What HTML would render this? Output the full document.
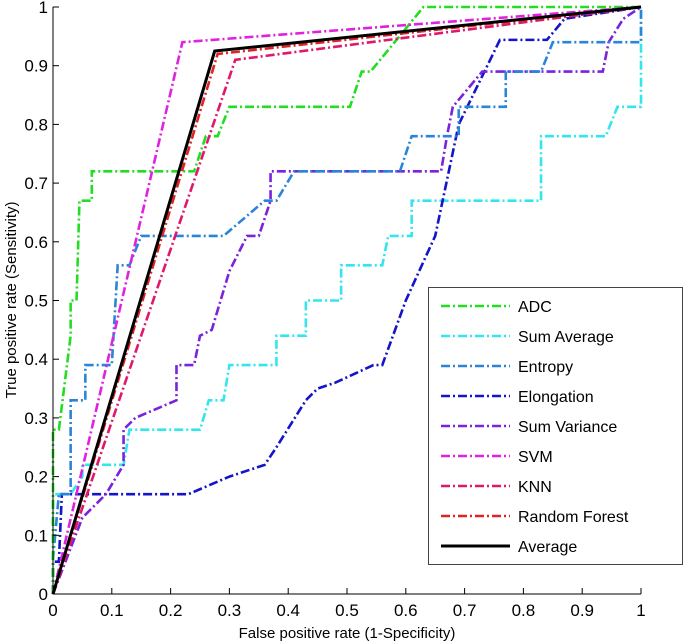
<!DOCTYPE html>
<html><head><meta charset="utf-8"><style>
body{margin:0;background:#fff;}
svg{display:block;font-family:"Liberation Sans",sans-serif;}
</style></head><body>
<svg id="chart" width="685" height="643" viewBox="0 0 685 643" xmlns="http://www.w3.org/2000/svg">
<g id="marks"></g>
<g id="axes"></g>
<g id="legend"></g>
<text x="347" y="638" font-size="15" text-anchor="middle">False positive rate (1-Specificity)</text>
<text transform="translate(16,300) rotate(-90)" font-size="15" text-anchor="middle">True positive rate (Sensitivity)</text>
</svg>
<script>
const seriesNames=["ADC","Sum Average","Entropy","Elongation","Sum Variance","SVM","KNN","Random Forest","Average"];
const adcX=[0,0,0.01,0.03,0.03,0.04,0.045,0.066,0.066,0.11,0.24,0.26,0.28,0.30,0.505,0.525,0.54,0.63,1];
const adcY=[0,0.28,0.28,0.44,0.5,0.5,0.67,0.67,0.72,0.72,0.72,0.78,0.78,0.83,0.83,0.89,0.89,1,1];
const sumAvgX=[0,0,0.03,0.05,0.05,0.12,0.13,0.25,0.265,0.29,0.30,0.38,0.38,0.43,0.43,0.49,0.49,0.56,0.57,0.61,0.61,0.83,0.83,0.94,0.96,1,1];
const sumAvgY=[0,0.17,0.17,0.2,0.22,0.22,0.28,0.28,0.33,0.33,0.39,0.39,0.44,0.44,0.5,0.5,0.56,0.56,0.61,0.61,0.67,0.67,0.78,0.78,0.83,0.83,1];
const entropyX=[0,0,0.01,0.03,0.03,0.055,0.055,0.1,0.11,0.13,0.15,0.29,0.36,0.38,0.41,0.59,0.61,0.69,0.69,0.77,0.77,0.83,0.85,1,1];
const entropyY=[0,0.06,0.17,0.17,0.33,0.33,0.39,0.39,0.56,0.56,0.61,0.61,0.67,0.67,0.72,0.72,0.78,0.78,0.83,0.83,0.89,0.89,0.94,0.94,1];
const elongX=[0,0,0.01,0.015,0.23,0.30,0.36,0.38,0.43,0.45,0.48,0.545,0.56,0.60,0.65,0.69,0.76,0.84,0.87,1];
const elongY=[0,0.055,0.055,0.17,0.17,0.2,0.22,0.25,0.33,0.35,0.36,0.39,0.39,0.5,0.61,0.8,0.944,0.944,0.98,1];
const sumVarX=[0,0.05,0.07,0.09,0.12,0.12,0.14,0.21,0.21,0.24,0.25,0.27,0.30,0.33,0.35,0.37,0.37,0.66,0.67,0.67,0.68,0.73,0.935,0.945,0.97,1];
const sumVarY=[0,0.13,0.15,0.17,0.22,0.28,0.3,0.33,0.39,0.39,0.44,0.45,0.55,0.61,0.61,0.67,0.72,0.72,0.78,0.78,0.83,0.89,0.89,0.94,0.98,1];
const svmX=[0,0.22,1], svmY=[0,0.94,1];
const knnX=[0,0.31,1], knnY=[0,0.91,1];
const rfX=[0,0.28,1], rfY=[0,0.92,1];
const avgX=[0,0.275,1], avgY=[0,0.925,1];
const xTicks=[0,0.1,0.2,0.3,0.4,0.5,0.6,0.7,0.8,0.9,1];
const yTicks=[0,0.1,0.2,0.3,0.4,0.5,0.6,0.7,0.8,0.9,1];

const X0=53,X1=641,Y0=594,Y1=7;
const sx=v=>X0+v*(X1-X0);
const sy=v=>Y0-v*(Y0-Y1);
const NS="http://www.w3.org/2000/svg";
const colors=["#22dd22","#33e6ee","#2a85d8","#1414c8","#7a22dd","#e022e0","#e0186a","#e02222","#000000"];
const allX=[adcX,sumAvgX,entropyX,elongX,sumVarX,svmX,knnX,rfX,avgX];
const allY=[adcY,sumAvgY,entropyY,elongY,sumVarY,svmY,knnY,rfY,avgY];
const order=[1,3,4,2,0,5,6,7,8];
const marks=document.getElementById('marks');
order.forEach(i=>{
  const p=document.createElementNS(NS,'polyline');
  
  
  p.setAttribute('points',allX[i].map((x,k)=>sx(x)+','+sy(allY[i][k])).join(' '));
  p.setAttribute('fill','none');
  p.setAttribute('stroke',colors[i]);
  p.setAttribute('stroke-width',i===8?3:2.6);
  if(i!==8)p.setAttribute('stroke-dasharray','9,3,2,3');
  marks.appendChild(p);
});
const axes=document.getElementById('axes');
function mk(tag,attrs,parent){const e=document.createElementNS(NS,tag);for(const k in attrs)e.setAttribute(k,attrs[k]);parent.appendChild(e);return e;}
const ax=mk('path',{d:`M${X0},${Y1} V${Y0} H${X1}`,fill:'none',stroke:'#000','stroke-width':1},axes);


xTicks.forEach(t=>{
  const l=mk('line',{x1:sx(t),x2:sx(t),y1:Y0,y2:Y0-6,stroke:'#000'},axes);
  
  
  const tx=mk('text',{x:sx(t),y:Y0+22,'font-size':17,'text-anchor':'middle'},axes);
  
  
  tx.textContent=String(t);
});
yTicks.forEach(t=>{
  const l=mk('line',{x1:X0,x2:X0+6,y1:sy(t),y2:sy(t),stroke:'#000'},axes);
  
  
  const tx=mk('text',{x:X0-5,y:sy(t)+6,'font-size':17,'text-anchor':'end'},axes);
  
  
  tx.textContent=String(t);
});
const lg=document.getElementById('legend');
const box=mk('rect',{x:428.5,y:287.5,width:254,height:277,fill:'#fff',stroke:'#444'},lg);


seriesNames.forEach((n,i)=>{
  const y=306+i*30;
  const g=mk('g',{},lg);
  
  
  const l=mk('line',{x1:441,x2:510,y1:y,y2:y,stroke:colors[i],'stroke-width':i===8?3:2.6},g);
  if(i!==8)l.setAttribute('stroke-dasharray','9,3,2,3');
  const t=mk('text',{x:518,y:y+6,'font-size':16},g);
  t.textContent=n;
});
</script>
</body></html>
